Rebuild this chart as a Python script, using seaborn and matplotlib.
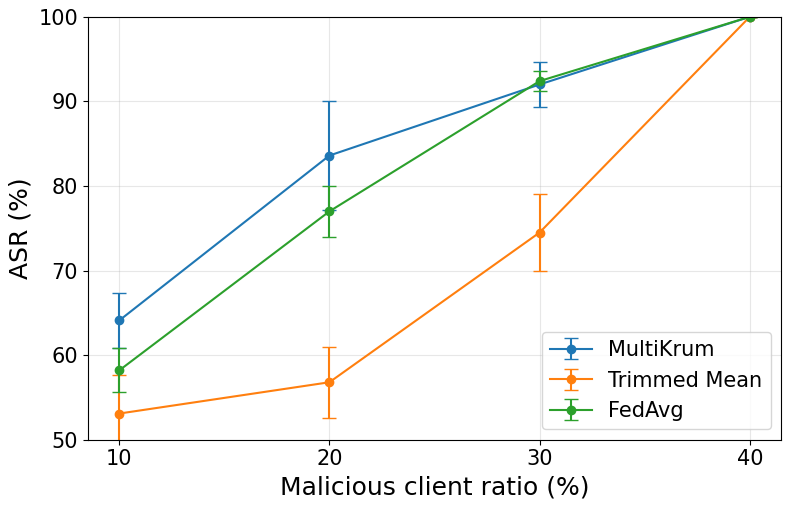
import numpy as np
import matplotlib
matplotlib.use("Agg")
import matplotlib.pyplot as plt
import seaborn as sns

# Malicious client ratio vs attack success rate
ratios = [10, 20, 30, 40]
methods = ["MultiKrum", "Trimmed Mean", "FedAvg"]
multikrum_mean = [64.1, 83.6, 92.0, 100.0]
multikrum_std = [3.2, 6.4, 2.7, 0.0]
trimmed_mean = [53.1, 56.8, 74.5, 100.0]
trimmed_std = [4.5, 4.2, 4.5, 0.0]
fedavg_mean = [58.2, 77.0, 92.4, 100.0]
fedavg_std = [2.6, 3.0, 1.2, 0.0]

means = [multikrum_mean, trimmed_mean, fedavg_mean]
stds = [multikrum_std, trimmed_std, fedavg_std]
colors = sns.color_palette("tab10", 3)

fig, ax = plt.subplots(figsize=(7.9, 5.09), dpi=100)
for name, m, s, c in zip(methods, means, stds, colors):
    ax.errorbar(ratios, m, yerr=s, label=name, color=c, marker='o',
                markersize=6, capsize=5, linewidth=1.5)

ax.set_ylim(50, 100)
ax.set_xticks(ratios)
ax.tick_params(labelsize=15)
ax.set_xlabel("Malicious client ratio (%)", fontsize=18)
ax.set_ylabel("ASR (%)", fontsize=18)
ax.grid(True, alpha=0.3)
ax.legend(fontsize=15, loc='lower right')
plt.subplots_adjust(left=0.111, right=0.989, top=0.967, bottom=0.136)
plt.savefig("out.png", dpi=100)
